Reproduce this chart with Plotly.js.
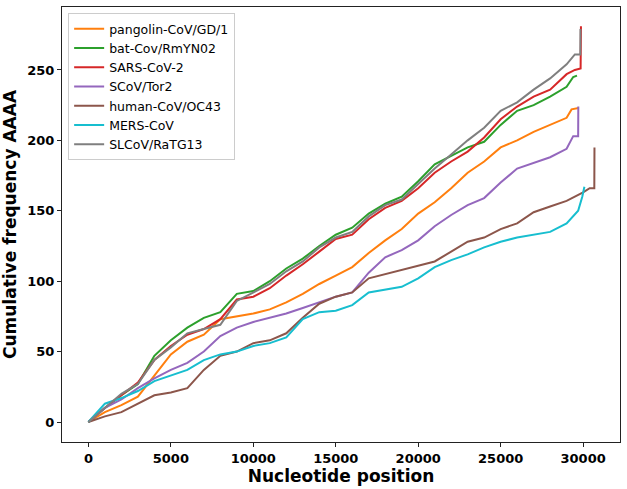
<!DOCTYPE html>
<html>
<head>
<meta charset="utf-8">
<script src="https://cdn.plot.ly/plotly-3.0.1.min.js"></script>
<style>
  html, body { margin: 0; padding: 0; background: #fff; }
  #myDiv { width: 627px; height: 489px; }
</style>
</head>
<body>
<div id="myDiv"></div>
<script>
var gridPos = [0, 1000, 2000, 3000, 4000, 5000, 6000, 7000, 8000, 9000,
    10000, 11000, 12000, 13000, 14000, 15000, 16000, 17000, 18000, 19000,
    20000, 21000, 22000, 23000, 24000, 25000, 26000, 27000, 28000, 29000];

var pangolinCounts = [0, 7, 12, 18, 33, 48, 57, 62, 73, 75, 77, 80, 85, 91, 98, 104, 110, 120, 129, 137,
    148, 156, 166, 177, 185, 195, 200, 206, 211, 216];
var pangolinEndPos = [29300, 29730];
var pangolinEndCounts = [222, 223];

var batCounts = [0, 10, 19, 27, 47, 58, 67, 74, 78, 91, 93, 100, 109, 116, 125, 133, 138, 148, 155, 160,
    171, 183, 189, 195, 199, 211, 221, 225, 231, 238];
var batEndPos = [29400, 29630];
var batEndCounts = [245, 246];

var sarsCounts = [0, 10, 19, 28, 44, 54, 62, 66, 73, 87, 89, 95, 104, 112, 121, 130, 133, 144, 152, 157,
    166, 177, 185, 192, 202, 215, 224, 231, 236, 247];
var sarsEndPos = [29500, 29850, 29870];
var sarsEndCounts = [250, 251, 281];

var tor2Counts = [0, 10, 16, 24, 31, 37, 42, 50, 61, 67, 71, 74, 77, 81, 85, 89, 92, 106, 117, 122,
    129, 139, 147, 154, 159, 170, 180, 184, 188, 194];
var tor2EndPos = [29400, 29700, 29710];
var tor2EndCounts = [203, 203, 224];

var oc43Counts = [0, 4, 7, 13, 19, 21, 24, 37, 47, 50, 56, 58, 63, 74, 84, 89, 92, 102, 105, 108,
    111, 114, 121, 128, 131, 137, 141, 149, 153, 157];
var oc43EndPos = [30000, 30400, 30680, 30690];
var oc43EndCounts = [163, 166, 166, 195];

var mersCounts = [0, 13, 17, 22, 29, 33, 37, 44, 48, 50, 54, 56, 60, 73, 78, 79, 83, 92, 94, 96,
    102, 110, 115, 119, 124, 128, 131, 133, 135, 141];
var mersEndPos = [29700, 29950, 30080];
var mersEndCounts = [150, 160, 167];

var ratg13Counts = [0, 10, 20, 27, 44, 53, 63, 66, 69, 86, 92, 98, 107, 114, 124, 131, 135, 146, 154, 158,
    169, 180, 190, 200, 209, 221, 227, 236, 244, 254];
var ratg13EndPos = [29500, 29830, 29840];
var ratg13EndCounts = [261, 261, 279];

var seriesNames = ["pangolin-CoV/GD/1", "bat-Cov/RmYN02", "SARS-CoV-2", "SCoV/Tor2",
    "human-CoV/OC43", "MERS-CoV", "SLCoV/RaTG13"];
var seriesColors = ["#ff7f0e", "#2ca02c", "#d62728", "#9467bd", "#8c564b", "#17becf", "#7f7f7f"];

var xTicks = [0, 5000, 10000, 15000, 20000, 25000, 30000];
var xTickLabels = ["0", "5000", "10000", "15000", "20000", "25000", "30000"];
var yTicks = [0, 50, 100, 150, 200, 250];

var counts = [pangolinCounts, batCounts, sarsCounts, tor2Counts, oc43Counts, mersCounts, ratg13Counts];
var endPos = [pangolinEndPos, batEndPos, sarsEndPos, tor2EndPos, oc43EndPos, mersEndPos, ratg13EndPos];
var endCounts = [pangolinEndCounts, batEndCounts, sarsEndCounts, tor2EndCounts, oc43EndCounts, mersEndCounts, ratg13EndCounts];

var data = [];
for (var i = 0; i < seriesNames.length; i++) {
    data.push({
        x: gridPos.concat(endPos[i]),
        y: counts[i].concat(endCounts[i]),
        mode: 'lines',
        name: seriesNames[i],
        line: {color: seriesColors[i], width: 2},
        type: 'scatter'
    });
}

var tickFont = {family: 'DejaVu Sans', size: 13, color: '#000', weight: 'bold'};
var titleFont = {family: 'DejaVu Sans', size: 17, color: '#000', weight: 'bold'};

var layout = {
    width: 627,
    height: 489,
    margin: {l: 62, r: 7, t: 7, b: 47},
    paper_bgcolor: '#fff',
    plot_bgcolor: '#fff',
    font: {family: 'DejaVu Sans', color: '#000'},
    showlegend: true,
    legend: {
        x: 0.011, y: 0.986, xanchor: 'left', yanchor: 'top',
        bgcolor: 'rgba(255,255,255,0.8)',
        bordercolor: '#cccccc', borderwidth: 1,
        font: {family: 'DejaVu Sans', size: 12.5, color: '#000'},
        tracegroupgap: 0
    },
    xaxis: {
        range: [-1601, 32238],
        tickvals: xTicks,
        ticktext: xTickLabels,
        ticks: 'outside', ticklen: 4, tickwidth: 1, tickcolor: '#222',
        tickfont: tickFont,
        showgrid: false, zeroline: false,
        showline: true, mirror: true, linecolor: '#222', linewidth: 1,
        title: {text: 'Nucleotide position', font: titleFont, standoff: 4}
    },
    yaxis: {
        range: [-14.2, 294.7],
        tickvals: yTicks,
        ticks: 'outside', ticklen: 4, tickwidth: 1, tickcolor: '#222',
        tickfont: tickFont,
        showgrid: false, zeroline: false,
        showline: true, mirror: true, linecolor: '#222', linewidth: 1,
        title: {text: 'Cumulative frequency AAAA', font: titleFont, standoff: 6}
    }
};

Plotly.newPlot("myDiv", data, layout, {displayModeBar: false, staticPlot: true});
</script>
</body>
</html>
